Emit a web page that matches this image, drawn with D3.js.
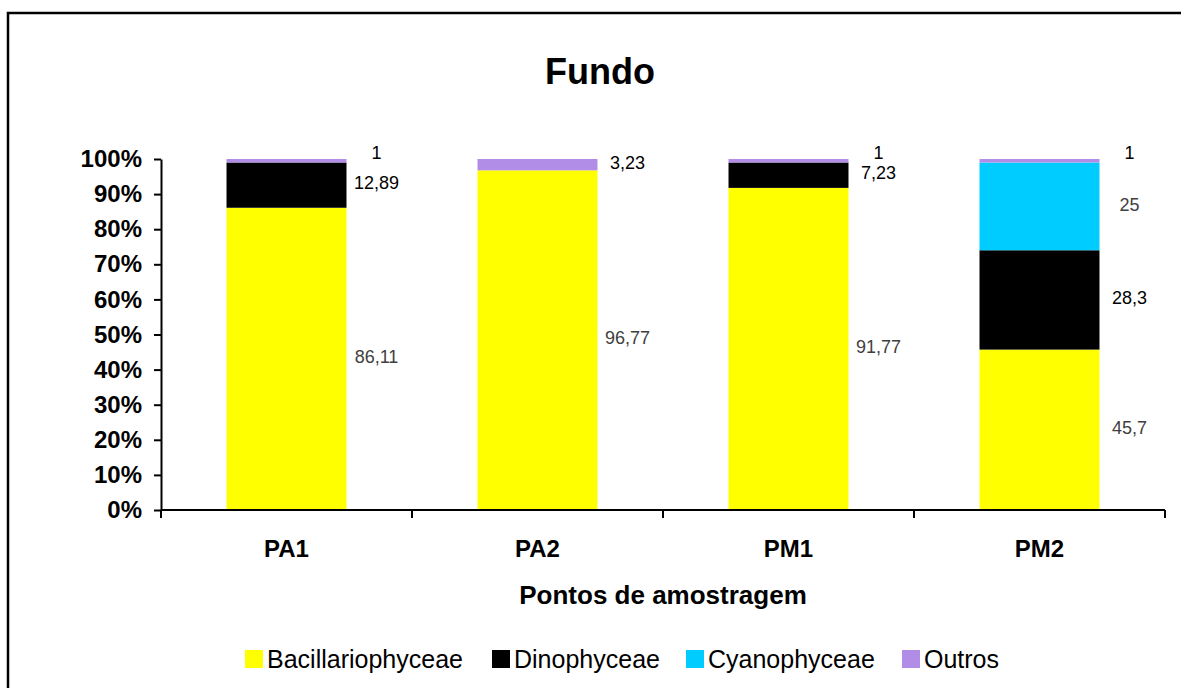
<!DOCTYPE html>
<html lang="pt">
<head>
<meta charset="UTF-8">
<script src="https://cdn.jsdelivr.net/npm/d3@7"></script>
<title>Fundo</title>
<style>
  body { margin: 0; background: #fff; }
  svg { display: block; font-family: "Liberation Sans", Arial, sans-serif; }
</style>
</head>
<body>
<svg width="1181" height="688"></svg>
<script>
// pontos de amostragem
const pontos = ["PA1", "PA2", "PM1", "PM2"];
const grupos = ["Bacillariophyceae", "Dinophyceae", "Cyanophyceae", "Outros"];
const cores = ["#ffff00", "#000000", "#00ccff", "#b28de8"];
const corRotulo = ["#404040", "#000000", "#404040", "#000000"];

// percentuais por grupo (mesma ordem de pontos)
const bacillariophyceae = [86.11, 96.77, 91.77, 45.7];
const dinophyceae = [12.89, 0, 7.23, 28.3];
const cyanophyceae = [0, 0, 0, 25];
const outros = [1, 3.23, 1, 1];

const yTicks = [0, 10, 20, 30, 40, 50, 60, 70, 80, 90, 100];

const series = [bacillariophyceae, dinophyceae, cyanophyceae, outros];
const rows = pontos.map((p, i) => {
  const r = { ponto: p, idx: i };
  grupos.forEach((g, k) => r[g] = series[k][i]);
  return r;
});

const margin = { top: 159, right: 16, bottom: 178, left: 161 };
const width = 1181, height = 688;

const svg = d3.select("svg");

// moldura
svg.append("rect")
  .attr("x", 8).attr("y", 13)
  .attr("width", 1200).attr("height", 700)
  .attr("fill", "none").attr("stroke", "#000").attr("stroke-width", 2.5);

const x = d3.scaleBand()
  .domain(pontos)
  .range([margin.left, width - margin.right])
  .paddingInner(0.522)
  .paddingOuter(0.261);

const y = d3.scaleLinear()
  .domain([0, 100])
  .range([height - margin.bottom, margin.top]);

const stack = d3.stack().keys(grupos);
const stacked = stack(rows);

const layer = svg.append("g").selectAll("g")
  .data(stacked)
  .join("g")
  .attr("fill", (d, i) => cores[i]);

layer.selectAll("rect")
  .data(d => d)
  .join("rect")
  .attr("x", d => x(d.data.ponto))
  .attr("width", x.bandwidth())
  .attr("y", d => y(d[1]))
  .attr("height", d => y(d[0]) - y(d[1]));

// rótulos de dados
stacked.forEach((s, k) => {
  s.forEach(d => {
    const v = series[k][d.data.idx];
    if (v <= 0) return;
    const h = y(d[0]) - y(d[1]);
    const yy = h < 6 ? y(d[1]) - 6 : (y(d[0]) + y(d[1])) / 2 - 2;
    svg.append("text")
      .attr("x", x(d.data.ponto) + x.bandwidth() + 30)
      .attr("y", yy)
      .attr("dy", "0.35em")
      .attr("text-anchor", "middle")
      .attr("font-size", 18)
      .attr("fill", corRotulo[k])
      .text(String(v).replace(".", ","));
  });
});

// eixo Y
const yAxis = svg.append("g")
  .attr("transform", `translate(${margin.left},0)`)
  .call(d3.axisLeft(y).tickValues(yTicks).tickFormat(d => d + "%").tickSize(7).tickSizeOuter(0).tickPadding(12));
yAxis.select(".domain").attr("stroke-width", 2);
yAxis.selectAll(".tick line").attr("stroke-width", 2);
yAxis.selectAll(".tick text")
  .attr("font-size", 24).attr("font-weight", "bold")
  .attr("font-family", "Liberation Sans, Arial, sans-serif").attr("fill", "#000");

// eixo X
const xAxis = svg.append("g")
  .attr("transform", `translate(0,${y(0)})`);
xAxis.append("line")
  .attr("x1", margin.left).attr("x2", width - margin.right)
  .attr("stroke", "#000").attr("stroke-width", 2);
const step = x.step();
xAxis.selectAll(".sep")
  .data(d3.range(pontos.length + 1))
  .join("line")
  .attr("x1", i => margin.left + i * step).attr("x2", i => margin.left + i * step)
  .attr("y1", 0).attr("y2", 8)
  .attr("stroke", "#000").attr("stroke-width", 2);
xAxis.selectAll(".lbl")
  .data(pontos)
  .join("text")
  .attr("x", d => x(d) + x.bandwidth() / 2)
  .attr("y", 47)
  .attr("text-anchor", "middle")
  .attr("font-size", 24).attr("font-weight", "bold")
  .text(d => d);

// títulos
svg.append("text")
  .attr("x", 600).attr("y", 84)
  .attr("text-anchor", "middle")
  .attr("font-size", 36).attr("font-weight", "bold")
  .text("Fundo");

svg.append("text")
  .attr("x", 663).attr("y", 604)
  .attr("text-anchor", "middle")
  .attr("font-size", 26).attr("font-weight", "bold")
  .text("Pontos de amostragem");

// legenda
const legX = [245, 492, 686, 902];
const leg = svg.append("g");
grupos.forEach((g, i) => {
  leg.append("rect")
    .attr("x", legX[i]).attr("y", 650)
    .attr("width", 18).attr("height", 18)
    .attr("fill", cores[i]);
  leg.append("text")
    .attr("x", legX[i] + 22).attr("y", 668)
    .attr("font-size", 25)
    .text(g);
});
</script>
</body>
</html>
